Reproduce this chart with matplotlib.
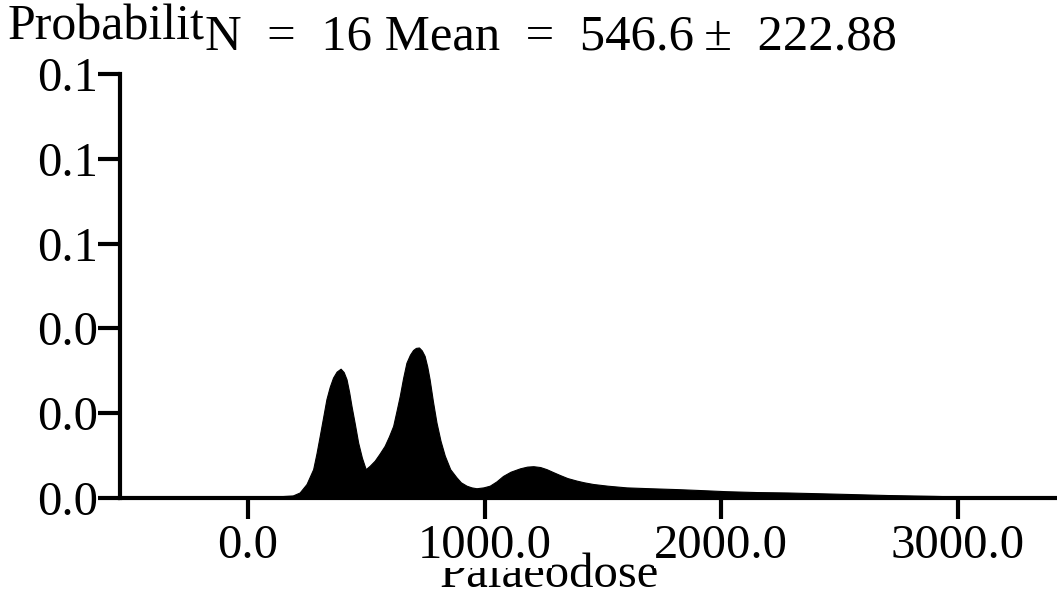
import matplotlib
matplotlib.use("Agg")
import matplotlib.pyplot as plt

# ---- data ----
dose = [-540, 0, 100, 190, 219, 248, 276, 290, 304, 318, 332, 346, 360, 375,
        392, 405, 417, 428, 438, 452, 466, 482, 498, 515, 536, 556, 578, 596,
        614, 628, 642, 656, 670, 685, 698, 710, 723, 735, 747, 758, 768, 782,
        797, 814, 832, 855, 881, 900, 924, 945, 966, 995, 1022, 1050, 1078,
        1110, 1150, 1180, 1206, 1235, 1262, 1290, 1319, 1350, 1389, 1420, 1459,
        1520, 1600, 1700, 1811, 1900, 2022, 2150, 2281, 2500, 2703, 2900, 3126,
        3410]
prob = [0.0, 0.0001, 0.0003, 0.0006, 0.0013, 0.0033, 0.0068, 0.0105, 0.0147,
        0.0190, 0.0233, 0.0262, 0.0284, 0.0298, 0.0305, 0.0297, 0.0280, 0.0250,
        0.0217, 0.0175, 0.0131, 0.0095, 0.0068, 0.0076, 0.0088, 0.0104, 0.0123,
        0.0145, 0.0170, 0.0205, 0.0241, 0.0283, 0.0319, 0.0338, 0.0349, 0.0354,
        0.0355, 0.0348, 0.0335, 0.0310, 0.0280, 0.0228, 0.0178, 0.0135, 0.0100,
        0.0068, 0.0049, 0.0037, 0.0029, 0.0025, 0.0023, 0.0025, 0.0029, 0.0039,
        0.0052, 0.0062, 0.0070, 0.0074, 0.0075, 0.0073, 0.0068, 0.0061, 0.0054,
        0.0047, 0.0041, 0.0037, 0.0033, 0.0029, 0.0025, 0.0023, 0.0021, 0.0019,
        0.0016, 0.0014, 0.0013, 0.0010, 0.0007, 0.0005, 0.0002, 0.0]

xticks = [0, 1000, 2000, 3000]
xtick_labels = ["0.0", "1000.0", "2000.0", "3000.0"]
yticks = [0.0, 0.02, 0.04, 0.06, 0.08, 0.10]
ytick_labels = ["0.0", "0.0", "0.0", "0.1", "0.1", "0.1"]

ylabel_text = "Probabilit"
title_text = "N  =  16 Mean  =  546.6\u2009\u00b1  222.88"
xlabel_text = "Palaeodose"

FONT = "Liberation Serif"
W, H = 1057, 597

fig = plt.figure(figsize=(W / 100, H / 100), dpi=100)
ax = fig.add_axes([120 / W, 1 - 498 / H, (1055 - 120) / W, (498 - 74) / H])

ax.fill_between(dose, prob, 0, color="black", linewidth=0.8, edgecolor="black")

ax.set_xlim(-540, 3410)
ax.set_ylim(0, 0.10)
ax.spines["top"].set_visible(False)
ax.spines["right"].set_visible(False)
for s in ("left", "bottom"):
    ax.spines[s].set_linewidth(3.0)
    ax.spines[s].set_capstyle("projecting")

ax.set_xticks(xticks, labels=xtick_labels)
ax.set_yticks(yticks, labels=ytick_labels)
ax.tick_params(axis="x", direction="out", length=15, width=3, pad=3.5,
               labelsize=35)
ax.tick_params(axis="y", direction="out", length=16, width=3, pad=0,
               labelsize=35)
for lab in ax.get_xticklabels() + ax.get_yticklabels():
    lab.set_fontfamily(FONT)
for lab in ax.get_xticklabels():
    lab.set_bbox(dict(facecolor="white", edgecolor="none", pad=0))

# header texts
fig.text(8 / W, 1 - 40 / H, ylabel_text, fontsize=36, family=FONT,
         ha="left", va="baseline")
fig.text(205 / W, 1 - 49 / H, title_text, fontsize=36.5,
         family=[FONT, "DejaVu Serif"], ha="left", va="baseline")
# x label, partly hidden behind the tick labels
fig.text(440 / W, 1 - 587 / H, xlabel_text, fontsize=35, family=FONT,
         ha="left", va="baseline", zorder=-1)

fig.savefig("out.png", dpi=100, facecolor="white")
